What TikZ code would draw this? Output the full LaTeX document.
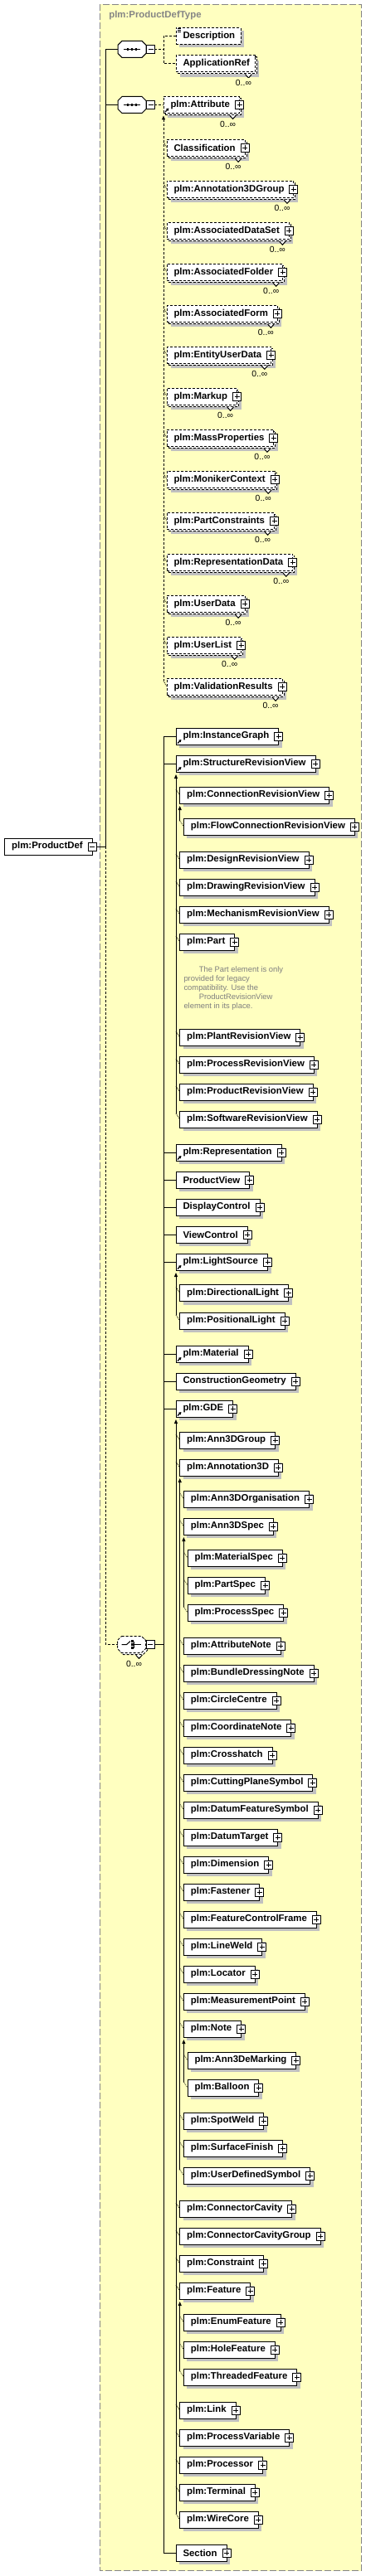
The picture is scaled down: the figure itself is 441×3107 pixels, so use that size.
\documentclass[tikz,border=0pt]{standalone}
\usepackage{fontspec}
\setmainfont{Liberation Sans}
\usetikzlibrary{shadows,arrows.meta,calc}

\definecolor{typefill}{HTML}{FFFFC0}
\definecolor{typeline}{HTML}{858585}
\definecolor{shadowgray}{HTML}{C0C0C0}
\definecolor{notegray}{HTML}{7F7F7F}

\tikzset{
  box/.style={draw, fill=white, minimum height=20pt, inner sep=0pt, outer sep=0pt,
    anchor=west, font=\fontsize{11.4pt}{13pt}\selectfont\bfseries,
    execute at begin node=\hspace*{8.5pt}},
  pad/.style={execute at end node=\hspace*{#1}},
  opt/.style={dash pattern=on 3pt off 2pt},
  shade4/.style={drop shadow={shadow xshift=4pt, shadow yshift=-4pt, opacity=1, fill=shadowgray}},
  shade6/.style={drop shadow={shadow xshift=5pt, shadow yshift=-6pt, opacity=1, fill=shadowgray}},
  plus/.style={label={[plusbox]east:}},
  elem/.style={box, pad=11.5pt, shade4, plus},
  plusbox/.style={draw, solid, fill=white, anchor=center, minimum size=10pt, inner sep=0pt,
    path picture={\draw[solid] ([xshift=2pt]path picture bounding box.west) -- ([xshift=-2pt]path picture bounding box.east)
      ([yshift=-2pt]path picture bounding box.north) -- ([yshift=2pt]path picture bounding box.south);}},
  minusbox/.style={draw, solid, fill=white, anchor=center, minimum size=10pt, inner sep=0pt,
    path picture={\draw[solid] ([xshift=2pt]path picture bounding box.west) -- ([xshift=-2pt]path picture bounding box.east);}},
  ref/.style={path picture={\draw[solid, line width=1.2pt, -{Triangle[length=3pt,width=3.5pt]}]
      ([shift={(2pt,1.5pt)}]path picture bounding box.south west) -- ++(4.5pt,4.5pt);}},
  doc/.style={path picture={\foreach \dy in {1,3,5}
      \draw[solid, line width=0.8pt] ([shift={(1.7pt,-\dy pt)}]path picture bounding box.north west) -- ++(4pt,0pt);}},
  multlabels/.style={label={[vnotch]south east:}, label={[multlbl]south east:0..∞}},
  multi/.style={preaction={draw, fill=white, opt, transform canvas={shift={(2pt,-2pt)}}}, multlabels},
  vnotch/.style={anchor=north, xshift=-8pt, yshift=-2pt, minimum width=8pt, minimum height=4.5pt,
    inner sep=0pt, path picture={\draw[solid, fill=white] (path picture bounding box.north west)
      -- (path picture bounding box.south) -- (path picture bounding box.north east);}},
  multlbl/.style={anchor=east, xshift=-4pt, yshift=-13pt, inner sep=0pt,
    font=\fontsize{10.4pt}{12pt}\selectfont},
  comp/.style={minimum width=34pt, minimum height=20pt, inner sep=0pt, outer sep=0pt,
    label={[minusbox, anchor=west]east:}},
  octa/.pic={\path[pic actions] (-12,-10) -- (12,-10) -- (17,-5) -- (17,5) -- (12,10)
    -- (-12,10) -- (-17,5) -- (-17,-5) -- cycle;},
  seqsym/.pic={\draw (-10,0) -- (10,0);
    \foreach \dx in {-5,0,5} \fill (\dx-1.3,-1.3) rectangle (\dx+1.3,1.3);},
  chsym/.pic={\draw (-12,0) -- (-6,0) -- (-1.5,-4);
    \draw (3,-4) -- (3,4);
    \draw (3,0) -- (11,0);
    \foreach \dy in {-4,0,4} \fill (-0.4,\dy-1.2) rectangle (2,\dy+1.2);},
  subst/.style={{Triangle[length=5pt,width=4pt]}-},
  subtick/.style={line width=0.7pt, dash pattern=on 1pt off 1pt},
  typeframe/.style={draw=typeline, fill=typefill, line width=1.3pt, dash pattern=on 8pt off 3pt},
  ttl/.style={anchor=west, text=typeline, font=\fontsize{11.4pt}{13pt}\selectfont\bfseries},
  notetext/.style={anchor=north west, align=left, text=notegray, inner sep=0pt,
    font=\fontsize{9.4pt}{11.1pt}\selectfont}
}

\begin{document}
\begin{tikzpicture}[x=1pt, y=-1pt, line width=1pt]
\useasboundingbox (0,0) rectangle (441,3107);

% complex type frame
\draw[typeframe] (120.3,5.3) rectangle (435.3,3100.7);
\node[ttl] (typeName) at (127.5,19) {plm:ProductDefType};

% root element and compositors
\node[box, pad=11.5pt, label={[minusbox]east:}] (pdef) at (5.7,1021) {plm:ProductDef};
\coordinate (trunk) at (127,59.3);
\pic[draw, fill=white, shade4] at (159,59.3) {octa};
\pic at (159,59.3) {seqsym};
\node[comp] (seqA) at (159,59.3) {};
\pic[draw, fill=white, shade4] at (159,126.5) {octa};
\pic at (159,126.5) {seqsym};
\node[comp] (seqB) at (159,126.5) {};
\pic[draw, fill=white, opt, shade4] at (160.5,1985.5) {octa};
\pic[draw, fill=white, opt] at (158.5,1983.5) {octa};
\pic at (158.5,1983.5) {chsym};
\node[comp, multlabels] (choice) at (158.5,1983.5) {};

\draw (trunk) -- (trunk |- pdef.east);
\draw (trunk) -- (seqA.west);
\draw (trunk |- seqB.west) -- (seqB.west);
\draw ([xshift=5pt]pdef.east) -- (trunk |- pdef.east);
\draw[opt] (trunk |- pdef.east) -- (trunk |- choice.west) -- (choice.west);

% first sequence
\node[box, opt, pad=7pt, shade4, doc] (desc) at (212,43.3) {Description};
\node[box, opt, pad=6.5pt, shade6, multi] (appRef) at (212,77) {ApplicationRef};
\draw[opt] ([xshift=10pt]seqA.east) -- ++(11,0);
\draw[opt] (desc.west) -- ++(-15,0) |- (appRef.west);

% second sequence: plm:Attribute and its substitution group
\node[box, opt, pad=11.5pt, shade6, plus, multi, ref] (attr) at (197,126.5) {plm:Attribute};
\draw[opt] ([xshift=10pt]seqB.east) -- (attr.west);
\foreach \elname [count=\i] in {Classification, plm:Annotation3DGroup, plm:AssociatedDataSet,
    plm:AssociatedFolder, plm:AssociatedForm, plm:EntityUserData, plm:Markup, plm:MassProperties,
    plm:MonikerContext, plm:PartConstraints, plm:RepresentationData, plm:UserData, plm:UserList,
    plm:ValidationResults} {
  \node[box, opt, pad=11.5pt, shade6, plus, multi] (attrSub\i) at (201,128.3+50*\i) {\elname};
  \draw[subtick] ([xshift=-4pt,yshift=7pt]attrSub\i.west) -- (attrSub\i.west);
}
\draw[opt, subst] ([yshift=-3pt]attr.south west) -- ($(attr.west |- attrSub14.west)+(0,-7)$);

% choice content
\node[elem, ref] (instGraph) at (212,888) {plm:InstanceGraph};
\node[elem, ref] (strucRV) at (212,921) {plm:StructureRevisionView};
\node[elem] (connRV) at (216.7,959) {plm:ConnectionRevisionView};
\node[elem] (flowRV) at (221.4,997) {plm:FlowConnectionRevisionView};
\node[elem] (designRV) at (216.7,1037) {plm:DesignRevisionView};
\node[elem] (drawRV) at (216.7,1070) {plm:DrawingRevisionView};
\node[elem] (mechRV) at (216.7,1103) {plm:MechanismRevisionView};
\node[elem] (part) at (216.7,1136) {plm:Part};
\node[notetext] (partNote) at (221,1164.8) {\hspace*{18.3pt}The Part element is only\\provided for legacy\\compatibility. Use the\\\hspace*{18.3pt}ProductRevisionView\\element in its place.};
\node[elem] (plantRV) at (216.7,1251) {plm:PlantRevisionView};
\node[elem] (processRV) at (216.7,1284) {plm:ProcessRevisionView};
\node[elem] (productRV) at (216.7,1317) {plm:ProductRevisionView};
\node[elem] (softRV) at (216.7,1350) {plm:SoftwareRevisionView};
\node[elem, ref] (repr) at (212,1390) {plm:Representation};
\node[elem] (prodView) at (212,1423) {ProductView};
\node[elem] (dispCtrl) at (212,1456) {DisplayControl};
\node[elem] (viewCtrl) at (212,1489) {ViewControl};
\node[elem, ref] (lightSrc) at (212,1522) {plm:LightSource};
\node[elem] (dirLight) at (216.7,1559.5) {plm:DirectionalLight};
\node[elem] (posLight) at (216.7,1593) {plm:PositionalLight};
\node[elem, ref] (material) at (212,1633) {plm:Material};
\node[elem] (constrGeom) at (212,1666) {ConstructionGeometry};
\node[elem, ref] (gde) at (212,1699) {plm:GDE};
\node[elem] (ann3DGroup) at (216.7,1737) {plm:Ann3DGroup};
\node[elem] (annotation3D) at (216.7,1770) {plm:Annotation3D};
\node[elem] (ann3DOrg) at (221.4,1808) {plm:Ann3DOrganisation};
\node[elem] (ann3DSpec) at (221.4,1841) {plm:Ann3DSpec};
\node[elem] (materialSpec) at (226.1,1879) {plm:MaterialSpec};
\node[elem] (partSpec) at (226.1,1912) {plm:PartSpec};
\node[elem] (processSpec) at (226.1,1945) {plm:ProcessSpec};
\node[elem] (attrNote) at (221.4,1985) {plm:AttributeNote};
\node[elem] (bundleNote) at (221.4,2018) {plm:BundleDressingNote};
\node[elem] (circleCentre) at (221.4,2051) {plm:CircleCentre};
\node[elem] (coordNote) at (221.4,2084) {plm:CoordinateNote};
\node[elem] (crosshatch) at (221.4,2117) {plm:Crosshatch};
\node[elem] (cuttingPlane) at (221.4,2150) {plm:CuttingPlaneSymbol};
\node[elem] (datumFeature) at (221.4,2183) {plm:DatumFeatureSymbol};
\node[elem] (datumTarget) at (221.4,2216) {plm:DatumTarget};
\node[elem] (dimension) at (221.4,2249) {plm:Dimension};
\node[elem] (fastener) at (221.4,2282) {plm:Fastener};
\node[elem] (fcFrame) at (221.4,2315) {plm:FeatureControlFrame};
\node[elem] (lineWeld) at (221.4,2348) {plm:LineWeld};
\node[elem] (locator) at (221.4,2381) {plm:Locator};
\node[elem] (measPoint) at (221.4,2414) {plm:MeasurementPoint};
\node[elem] (note) at (221.4,2447) {plm:Note};
\node[elem] (ann3DeMarking) at (226.1,2485) {plm:Ann3DeMarking};
\node[elem] (balloon) at (226.1,2518) {plm:Balloon};
\node[elem] (spotWeld) at (221.4,2558) {plm:SpotWeld};
\node[elem] (surfFinish) at (221.4,2591) {plm:SurfaceFinish};
\node[elem] (userSymbol) at (221.4,2624) {plm:UserDefinedSymbol};
\node[elem] (connCavity) at (216.7,2664) {plm:ConnectorCavity};
\node[elem] (connCavityGroup) at (216.7,2697) {plm:ConnectorCavityGroup};
\node[elem] (constraint) at (216.7,2730) {plm:Constraint};
\node[elem] (feature) at (216.7,2763) {plm:Feature};
\node[elem] (enumFeature) at (221.4,2801) {plm:EnumFeature};
\node[elem] (holeFeature) at (221.4,2834) {plm:HoleFeature};
\node[elem] (threadFeature) at (221.4,2867) {plm:ThreadedFeature};
\node[elem] (link) at (216.7,2907) {plm:Link};
\node[elem] (procVariable) at (216.7,2940) {plm:ProcessVariable};
\node[elem] (processor) at (216.7,2973) {plm:Processor};
\node[elem] (terminal) at (216.7,3006) {plm:Terminal};
\node[elem] (wireCore) at (216.7,3039) {plm:WireCore};
\node[elem] (section) at (212,3079) {Section};

% choice connectors
\coordinate (bar) at (197,888);
\draw (bar |- instGraph.west) -- (bar |- section.west);
\foreach \n in {instGraph, strucRV, repr, prodView, dispCtrl, viewCtrl, lightSrc, material, constrGeom, gde, section}
  \draw (bar |- \n.west) -- (\n.west);
\draw ([xshift=10pt]choice.east) -- (bar |- choice.east);

% substitution groups
\draw[subst] ([yshift=-3pt]strucRV.south west) -- ($(strucRV.west |- softRV.west)+(0,-7)$);
\foreach \n in {connRV, designRV, drawRV, mechRV, part, plantRV, processRV, productRV, softRV}
  \draw[subtick] ([xshift=-4.7pt,yshift=7pt]\n.west) -- (\n.west);
\draw[subst] ([yshift=-3pt]connRV.south west) -- ($(connRV.west |- flowRV.west)+(0,-7)$);
\draw[subtick] ([xshift=-4.7pt,yshift=7pt]flowRV.west) -- (flowRV.west);
\draw[subst] ([yshift=-3pt]lightSrc.south west) -- ($(lightSrc.west |- posLight.west)+(0,-7)$);
\foreach \n in {dirLight, posLight}
  \draw[subtick] ([xshift=-4.7pt,yshift=7pt]\n.west) -- (\n.west);
\draw[subst] ([yshift=-3pt]gde.south west) -- ($(gde.west |- wireCore.west)+(0,-7)$);
\foreach \n in {ann3DGroup, annotation3D, connCavity, connCavityGroup, constraint, feature, link, procVariable, processor, terminal, wireCore}
  \draw[subtick] ([xshift=-4.7pt,yshift=7pt]\n.west) -- (\n.west);
\draw[subst] ([yshift=-3pt]annotation3D.south west) -- ($(annotation3D.west |- userSymbol.west)+(0,-7)$);
\foreach \n in {ann3DOrg, ann3DSpec, attrNote, bundleNote, circleCentre, coordNote, crosshatch, cuttingPlane, datumFeature, datumTarget, dimension, fastener, fcFrame, lineWeld, locator, measPoint, note, spotWeld, surfFinish, userSymbol}
  \draw[subtick] ([xshift=-4.7pt,yshift=7pt]\n.west) -- (\n.west);
\draw[subst] ([yshift=-3pt]ann3DSpec.south west) -- ($(ann3DSpec.west |- processSpec.west)+(0,-7)$);
\foreach \n in {materialSpec, partSpec, processSpec}
  \draw[subtick] ([xshift=-4.7pt,yshift=7pt]\n.west) -- (\n.west);
\draw[subst] ([yshift=-3pt]note.south west) -- ($(note.west |- balloon.west)+(0,-7)$);
\foreach \n in {ann3DeMarking, balloon}
  \draw[subtick] ([xshift=-4.7pt,yshift=7pt]\n.west) -- (\n.west);
\draw[subst] ([yshift=-3pt]feature.south west) -- ($(feature.west |- threadFeature.west)+(0,-7)$);
\foreach \n in {enumFeature, holeFeature, threadFeature}
  \draw[subtick] ([xshift=-4.7pt,yshift=7pt]\n.west) -- (\n.west);
\end{tikzpicture}
\end{document}
